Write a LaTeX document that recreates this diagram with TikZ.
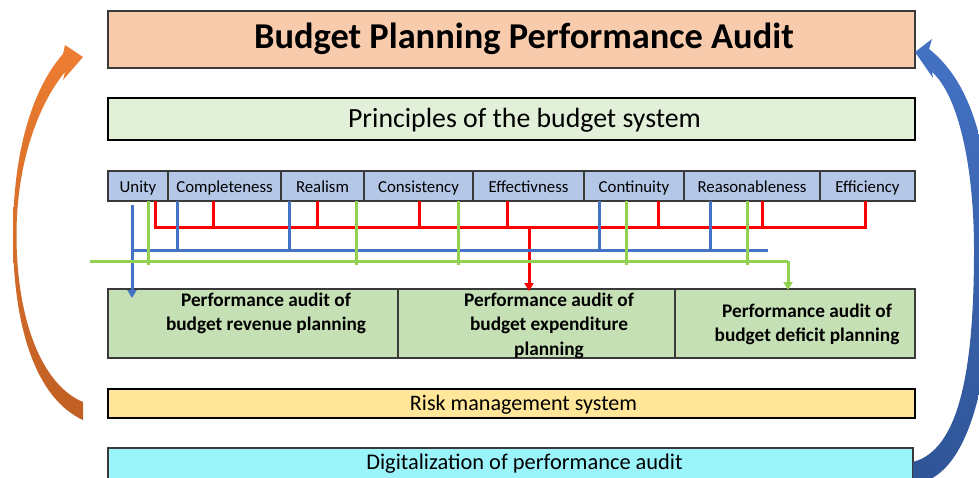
\documentclass[tikz,border=0pt]{standalone}
\usepackage{fontspec}
\setmainfont{Carlito}
\usetikzlibrary{arrows.meta,calc}

\definecolor{titlefill}{HTML}{F8CBAD}
\definecolor{princfill}{HTML}{E2F0D9}
\definecolor{cellfill}{HTML}{B4C7E7}
\definecolor{auditfill}{HTML}{C5E0B4}
\definecolor{riskfill}{HTML}{FFE699}
\definecolor{digifill}{HTML}{9CF4FB}
\definecolor{edgegray}{HTML}{3A3A3A}
\definecolor{busred}{HTML}{FF0000}
\definecolor{busblue}{HTML}{4472C4}
\definecolor{busgreen}{HTML}{92D050}
\definecolor{orangetop}{HTML}{ED7D31}
\definecolor{orangebot}{HTML}{C05F24}
\definecolor{bluetop}{HTML}{4472C4}
\definecolor{bluebot}{HTML}{2F5597}

\tikzset{
  box/.style={draw=edgegray, line width=1.1pt, inner sep=0pt, outer sep=0pt, anchor=north west},
  cell/.style={box, fill=cellfill, minimum height=30pt, text height=15pt, text depth=1.6pt,
               font=\fontsize{16.8}{17}\selectfont},
  audit/.style={box, fill=auditfill, minimum height=69pt},
  audittext/.style={align=center, font=\bfseries\fontsize{19.3}{24.5}\selectfont, inner sep=0pt},
  label/.style={inner sep=0pt, anchor=base},
  redbus/.style={draw=busred, line width=3pt},
  bluebus/.style={draw=busblue, line width=3pt},
  greenbus/.style={draw=busgreen, line width=3pt},
  tip/.style={-{Triangle[width=9pt,length=8pt]}},
}

\begin{document}
\begin{tikzpicture}[x=1pt,y=-1pt]
\useasboundingbox (0,0) rectangle (979,477);
\clip (0,0) rectangle (979,477);

% headline boxes
\node[box, fill=titlefill, minimum width=807pt, minimum height=57pt] (title) at (108,11) {};
\node[label, font=\bfseries\fontsize{36.4}{36}\selectfont] (titletext) at (524,48.4)
      {Budget Planning Performance Audit};
\node[box, fill=princfill, draw=black, minimum width=807pt, minimum height=42pt] (principles) at (108,98) {};
\node[inner sep=0pt, font=\fontsize{27.8}{28}\selectfont] (princtext) at (524.5,120)
      {Principles of the budget system};

% row of principles
\node[cell, minimum width=60pt]  (unity)  at (108,171) {Unity};
\node[cell, minimum width=113pt] (compl)  at (unity.north east) {Completeness};
\node[cell, minimum width=83pt]  (real)   at (compl.north east) {Realism};
\node[cell, minimum width=109pt] (cons)   at (real.north east) {Consistency};
\node[cell, minimum width=111pt] (effect) at (cons.north east) {Effectivness};
\node[cell, minimum width=100pt] (cont)   at (effect.north east) {Continuity};
\node[cell, minimum width=136pt] (reas)   at (cont.north east) {Reasonableness};
\node[cell, minimum width=95pt]  (effic)  at (reas.north east) {Efficiency};

% audit areas
\node[audit, minimum width=290pt] (rev) at (108,289) {};
\node[audit, minimum width=277pt] (exp) at (rev.north east) {};
\node[audit, minimum width=240pt] (def) at (exp.north east) {};
\node[audittext] (revtext) at (266,313.5) {Performance audit of\\budget revenue planning};
\node[audittext] (exptext) at (549,325.5) {Performance audit of\\budget expenditure\\planning};
\node[audittext] (deftext) at (807,324.5) {Performance audit of\\budget deficit planning};

% supporting layers
\node[box, fill=riskfill, draw=black, minimum width=807pt, minimum height=29pt] (risk) at (108,389) {};
\node[label, font=\fontsize{22.1}{22}\selectfont] (risktext) at (523.5,410.7)
      {Risk management system};
\node[box, fill=digifill, minimum width=805pt, minimum height=40pt] (digi) at (108,448) {};
\node[label, font=\fontsize{22.4}{22}\selectfont] (digitext) at (524.5,469.3)
      {Digitalization of performance audit};

% bus coordinates
\coordinate (rA) at (155,227);  \coordinate (rB) at (213,227);
\coordinate (rC) at (317,227);  \coordinate (rD) at (419,227);
\coordinate (rE) at (507,227);  \coordinate (rF) at (658,227);
\coordinate (rG) at (762,227);  \coordinate (rH) at (865,227);
\coordinate (rX) at (529,227);

\coordinate (bL) at (132,250);  \coordinate (bB) at (177,250);
\coordinate (bC) at (289,250);  \coordinate (bF) at (599,250);
\coordinate (bG) at (710,250);  \coordinate (bR) at (768,250);

\coordinate (gL) at (90,261);   \coordinate (gA) at (148,265);
\coordinate (gC) at (356,265);  \coordinate (gD) at (458,265);
\coordinate (gF) at (626,265);  \coordinate (gG) at (747,265);
\coordinate (gX) at (788,261);

% red bus
\draw[redbus, line join=miter] (unity.south -| rA) -- (rA) -- (rH) -- (effic.south -| rH);
\foreach \c/\p in {compl/rB, real/rC, cons/rD, effect/rE, cont/rF, reas/rG}
  \draw[redbus] (\c.south -| \p) -- (\p);
\draw[redbus, tip] (rX) -- ([yshift=-2pt]exp.north -| rX);

% blue bus
\draw[bluebus] (bL) -- (bR);
\foreach \c/\p in {compl/bB, real/bC, cont/bF, reas/bG}
  \draw[bluebus] (\c.south -| \p) -- (\p);
\draw[bluebus, tip] ([yshift=-4pt]unity.south -| bL) -- ([yshift=-9pt]rev.north -| bL);

% green bus
\draw[greenbus, line join=miter] (gL) -- (gX);
\draw[greenbus, tip] (gX) -- ([yshift=-1pt]def.north -| gX);
\foreach \c/\p in {unity/gA, real/gC, cons/gD, cont/gF, reas/gG}
  \draw[greenbus] (\c.south -| \p) -- (\p);

% left feedback arrow
\shade[top color=orangetop, bottom color=orangebot]
  (83,420) .. controls (35,398) and (13,325) .. (13,235)
  .. controls (13,150) and (33,88) .. (63,54)
  -- (65,45) -- (83,57) -- (63,80) -- (65,72)
  .. controls (40,102) and (16.5,160) .. (16.5,235)
  .. controls (16.5,320) and (42,385) .. (83,402) -- cycle;

% right feedback arrow
\shade[top color=bluetop, bottom color=bluebot]
  (913,484) .. controls (968,480) and (992,380) .. (992,260)
  .. controls (992,160) and (975,85) .. (929,49)
  -- (932,39) -- (915,52) -- (933,78) -- (932,72)
  .. controls (958,95) and (974,165) .. (974,250)
  .. controls (974,375) and (958,450) .. (913,462) -- cycle;
\end{tikzpicture}
\end{document}
